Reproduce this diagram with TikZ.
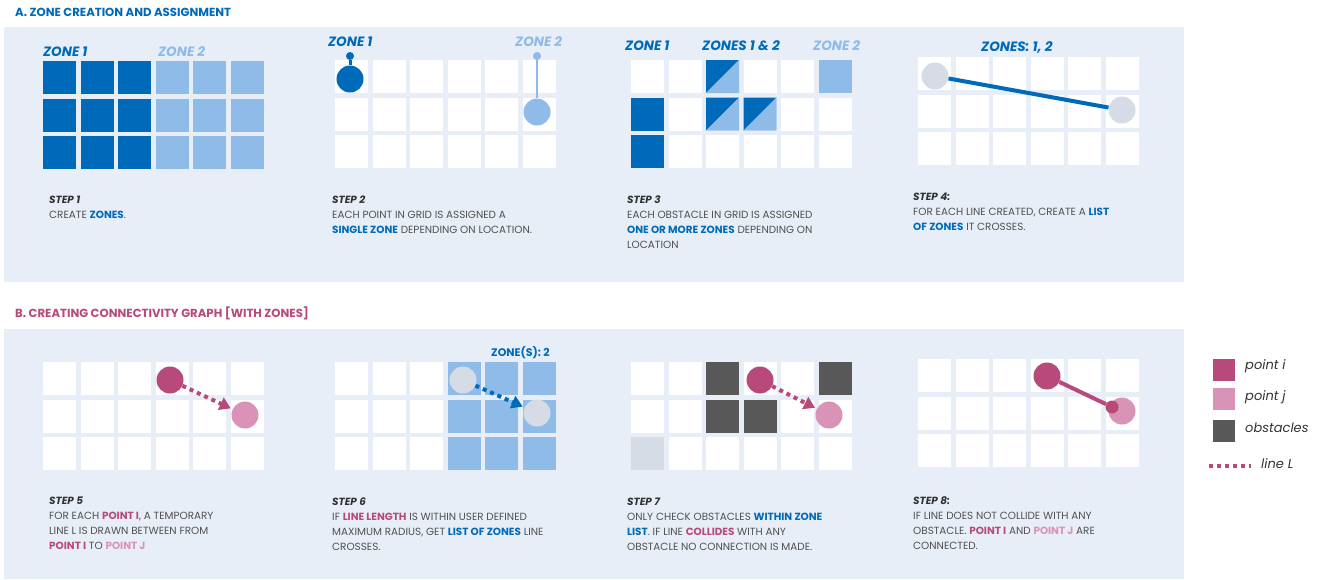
\documentclass[tikz,border=0pt]{standalone}
\usepackage{fontspec}
\setmainfont{Poppins}
\usetikzlibrary{arrows.meta,positioning,calc}
\definecolor{panelbg}{RGB}{232,238,248}
\definecolor{zdark}{RGB}{0,106,186}
\definecolor{zlight}{RGB}{143,187,232}
\definecolor{ptgrey}{RGB}{214,220,230}
\definecolor{pti}{RGB}{184,74,123}
\definecolor{ptj}{RGB}{217,147,183}
\definecolor{obst}{RGB}{88,88,88}
\definecolor{txtgrey}{RGB}{80,80,80}
\definecolor{steptxt}{RGB}{50,50,50}
\newcommand{\hb}[1]{\textbf{\color{zdark}#1}}
\newcommand{\hp}[1]{\textbf{\color{pti}#1}}
\newcommand{\hq}[1]{\textbf{\color{ptj}#1}}
\newcommand{\stp}[1]{\textbf{\textit{\color{steptxt}#1}}}
% white 6x3 grid, origin at top left
\newcommand{\cellgrid}[2]{\foreach \c in {0,...,5}{\foreach \r in {0,1,2}{\fill[white] ({#1+37.5*\c},{#2+37.5*\r}) rectangle ++(33,33);}}}
\newcommand{\zcell}[5]{\fill[#5] ({#1+37.5*#3},{#2+37.5*#4}) rectangle ++(33,33);}
% cell split on the diagonal
\newcommand{\splitcell}[4]{\fill[zdark] ({#1+37.5*#3},{#2+37.5*#4}) -- ++(33,0) -- ++(-33,33) -- cycle;
  \fill[zlight] ({#1+37.5*#3+33},{#2+37.5*#4}) -- ++(0,33) -- ++(-33,0) -- cycle;}
\begin{document}
\begin{tikzpicture}[x=1pt,y=-1pt,
  ttl/.style={font=\fontsize{11.7}{13}\selectfont\bfseries, anchor=west, inner sep=0},
  zlab/.style={font=\fontsize{13.5}{15}\selectfont\bfseries\itshape, anchor=west, inner sep=0},
  stepnote/.style={font=\fontsize{10.4}{15}\selectfont, text=txtgrey, align=left, anchor=north west, inner sep=0},
  ptdot/.style={circle, inner sep=0, minimum size=27pt},
  knob/.style={circle, inner sep=0, minimum size=8pt},
  dotline/.style={line width=4pt, dash pattern=on 4pt off 4pt},
  legbox/.style={minimum size=22pt, inner sep=0},
  legtxt/.style={font=\fontsize{13}{15}\selectfont\itshape, text=steptxt, anchor=west, inner sep=0}]
\useasboundingbox (0,0) rectangle (1326,579);
% panels
\fill[panelbg] (4,27) rectangle (1184,282);
\fill[panelbg] (4,329) rectangle (1184,579);
\node[ttl, text=zdark] (ttla) at (15,12) {A. ZONE CREATION AND ASSIGNMENT};
\node[ttl, text=pti] (ttlb) at (15,313) {B. CREATING CONNECTIVITY GRAPH [WITH ZONES]};

% Step 1
\foreach \c in {0,1,2}{\foreach \r in {0,1,2}{\zcell{43}{61}{\c}{\r}{zdark}}}
\foreach \c in {3,4,5}{\foreach \r in {0,1,2}{\zcell{43}{61}{\c}{\r}{zlight}}}
\node[zlab, text=zdark] (s1z1) at (43,52) {ZONE 1};
\node[zlab, text=zlight] (s1z2) at (158,52) {ZONE 2};
\node[stepnote] (s1) at (49,196) {\stp{STEP 1}\\CREATE \hb{ZONES}.};

% Step 2
\cellgrid{335}{60}
\node[zlab, text=zdark] (s2z1) at (328,42) {ZONE 1};
\node[zlab, text=zlight] (s2z2) at (515,42) {ZONE 2};
\node[knob, fill=zdark] (k1) at (350,56) {};
\node[ptdot, fill=zdark] (a1) at (350,79) {};
\draw[zdark, line width=3pt] (k1) -- (a1);
\node[knob, fill=zlight] (k2) at (537,56) {};
\node[ptdot, fill=zlight] (a2) at (537,112) {};
\draw[zlight, line width=2.5pt] (k2) -- (a2);
\node[stepnote] (s2) at (332,196) {\stp{STEP 2}\\EACH POINT IN GRID IS ASSIGNED A\\\hb{SINGLE ZONE} DEPENDING ON LOCATION.};

% Step 3
\cellgrid{631}{60}
\zcell{631}{60}{5}{0}{zlight}
\zcell{631}{60}{0}{1}{zdark}
\zcell{631}{60}{0}{2}{zdark}
\splitcell{631}{60}{2}{0}
\splitcell{631}{60}{2}{1}
\splitcell{631}{60}{3}{1}
\node[zlab, text=zdark] (s3z1) at (625,46) {ZONE 1};
\node[zlab, text=zdark] (s3z12) at (702,46) {ZONES 1 \& 2};
\node[zlab, text=zlight] (s3z2) at (813,46) {ZONE 2};
\node[stepnote] (s3) at (627,196) {\stp{STEP 3}\\EACH OBSTACLE IN GRID IS ASSIGNED\\\hb{ONE OR MORE ZONES} DEPENDING ON\\LOCATION};

% Step 4
\cellgrid{918}{57}
\node[zlab, text=zdark] (s4z) at (981,47) {ZONES: 1, 2};
\node[ptdot, fill=ptgrey] (b1) at (935,76) {};
\node[ptdot, fill=ptgrey] (b2) at (1122,110) {};
\draw[zdark, line width=4pt] (b1) -- (b2);
\node[stepnote] (s4) at (913,193) {\stp{STEP 4:}\\FOR EACH LINE CREATED, CREATE A \hb{LIST}\\\hb{OF ZONES} IT CROSSES.};

% Step 5
\cellgrid{43}{362}
\node[ptdot, fill=pti] (i5) at (170,380) {};
\node[ptdot, fill=ptj] (j5) at (245,415) {};
\draw[pti, dotline, -{Triangle[length=11pt,width=13pt]}, shorten >=2pt] (i5) -- (j5);
\node[stepnote] (s5) at (49,497) {\stp{STEP 5}\\FOR EACH \hp{POINT I}, A TEMPORARY\\LINE L IS DRAWN BETWEEN FROM\\\hp{POINT I} TO \hq{POINT J}};

% Step 6
\cellgrid{335}{362}
\foreach \c in {3,4,5}{\foreach \r in {0,1,2}{\zcell{335}{362}{\c}{\r}{zlight}}}
\node[zlab, font=\fontsize{11}{13}\selectfont\bfseries, text=zdark] (s6z) at (491,353) {ZONE(S): 2};
\node[ptdot, fill=ptgrey] (i6) at (463,380) {};
\node[ptdot, fill=ptgrey] (j6) at (537,413) {};
\draw[zdark, dotline, -{Triangle[length=11pt,width=13pt]}, shorten >=2pt] (i6) -- (j6);
\node[stepnote] (s6) at (332,498) {\stp{STEP 6}\\IF \hp{LINE LENGTH} IS WITHIN USER DEFINED\\MAXIMUM RADIUS, GET \hb{LIST OF ZONES} LINE\\CROSSES.};

% Step 7
\cellgrid{631}{362}
\zcell{631}{362}{2}{0}{obst}
\zcell{631}{362}{5}{0}{obst}
\zcell{631}{362}{2}{1}{obst}
\zcell{631}{362}{3}{1}{obst}
\zcell{631}{362}{0}{2}{ptgrey}
\node[ptdot, fill=pti] (i7) at (760,380) {};
\node[ptdot, fill=ptj] (j7) at (829,415) {};
\draw[pti, dotline, -{Triangle[length=11pt,width=13pt]}, shorten >=2pt] (i7) -- (j7);
\node[stepnote] (s7) at (627,498) {\stp{STEP 7}\\ONLY CHECK OBSTACLES \hb{WITHIN ZONE}\\\hb{LIST}. IF LINE \hp{COLLIDES} WITH ANY\\OBSTACLE NO CONNECTION IS MADE.};

% Step 8
\cellgrid{918}{359}
\node[ptdot, fill=pti] (i8) at (1047,376) {};
\node[ptdot, fill=ptj] (j8) at (1122,411) {};
\node[circle, inner sep=0, minimum size=13pt, fill=pti] (e8) at (1112,407) {};
\draw[pti, line width=4pt] (i8) -- (e8);
\node[stepnote] (s8) at (913,496) {\stp{STEP 8:}\\IF LINE DOES NOT COLLIDE WITH ANY\\OBSTACLE. \hp{POINT I} AND \hq{POINT J} ARE\\CONNECTED.};

% Legend
\node[legbox, fill=pti] (li) at (1224,370) {};
\node[legtxt] (lit) at (1245,366) {point i};
\node[legbox, fill=ptj] (lj) at (1224,399) {};
\node[legtxt] (ljt) at (1245,397) {point j};
\node[legbox, fill=obst] (lo) at (1224,431) {};
\node[legtxt] (lot) at (1245,428) {obstacles};
\coordinate (ll1) at (1209,466);
\coordinate (ll2) at (1251,466);
\draw[pti, dotline] (ll1) -- (ll2);
\node[legtxt] (llt) at (1261,464) {line L};
\end{tikzpicture}
\end{document}
